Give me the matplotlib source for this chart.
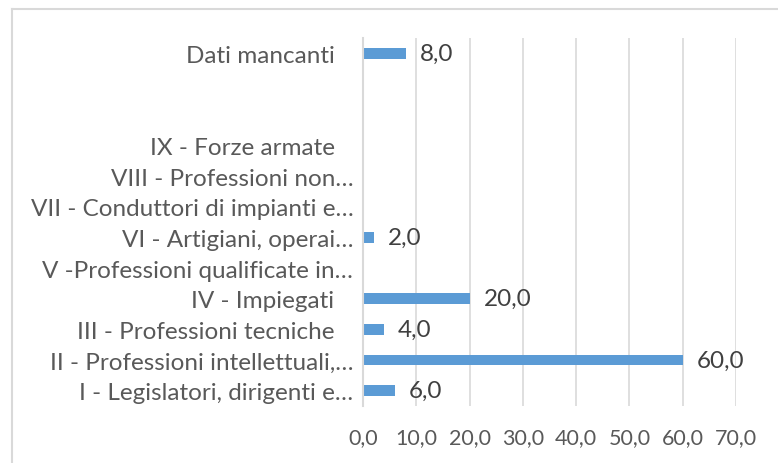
import numpy as np
from matplotlib import pyplot as plt
from matplotlib.lines import Line2D

# categories bottom -> top, blanks are empty slots in the original chart
categories = ["I - Legislatori, dirigenti e…",
              "II - Professioni intellettuali,…",
              "III - Professioni tecniche   ",
              "IV - Impiegati   ",
              "V -Professioni qualificate in…",
              "VI - Artigiani, operai…",
              "VII - Conduttori di impianti e…",
              "VIII - Professioni non…",
              "IX - Forze armate   ",
              "",
              "",
              "Dati mancanti   "]
values = [6.0, 60.0, 4.0, 20.0, None, 2.0, None, None, None, None, None, 8.0]
xticks = [0, 10, 20, 30, 40, 50, 60, 70]

plt.rcParams['font.family'] = ['Lato', 'DejaVu Sans']
bar_color = "#5B9BD5"
grid_color = "#D9D9D9"
text_color = "#595959"

fig = plt.figure(figsize=(7.78, 4.64), dpi=100)
ax = fig.add_axes([363/778, 1-407/464, (736-363)/778, (407-39)/464])

y = np.arange(len(categories))
vals = [v if v is not None else 0 for v in values]
ax.barh(y, vals, height=0.34, color=bar_color, zorder=3)

for yi, v in zip(y, values):
    if v is None:
        continue
    ax.annotate(f"{v:.1f}".replace(".", ","), xy=(v, yi), xytext=(10, 0),
                textcoords="offset points", va="center", ha="left",
                fontsize=17.5, color="#404040")

ax.set_xlim(0, 70)
ax.set_ylim(-0.5, len(categories) - 0.5)
ax.set_xticks(xticks)
ax.set_xticklabels([f"{t:.1f}".replace(".", ",") for t in xticks])
ax.set_yticks(y)
ax.set_yticklabels(categories)
ax.tick_params(axis="both", length=0, colors=text_color)
ax.tick_params(axis="x", pad=15, labelsize=15.5)
ax.tick_params(axis="y", pad=7, labelsize=17.5)

ax.grid(axis="x", color=grid_color, linewidth=1.2, zorder=0)
for s in ["top", "right", "bottom"]:
    ax.spines[s].set_visible(False)
ax.spines["left"].set_color(grid_color)
ax.spines["left"].set_linewidth(1.5)
ax.spines["left"].set_zorder(4)

# chart area border (cropped on right and bottom)
fig.add_artist(Line2D([12/778, 12/778], [0, 1-9.5/464], color=grid_color, lw=1.5))
fig.add_artist(Line2D([12/778, 1], [1-9.5/464, 1-9.5/464], color=grid_color, lw=1.5))

fig.savefig("out.png", dpi=100)
